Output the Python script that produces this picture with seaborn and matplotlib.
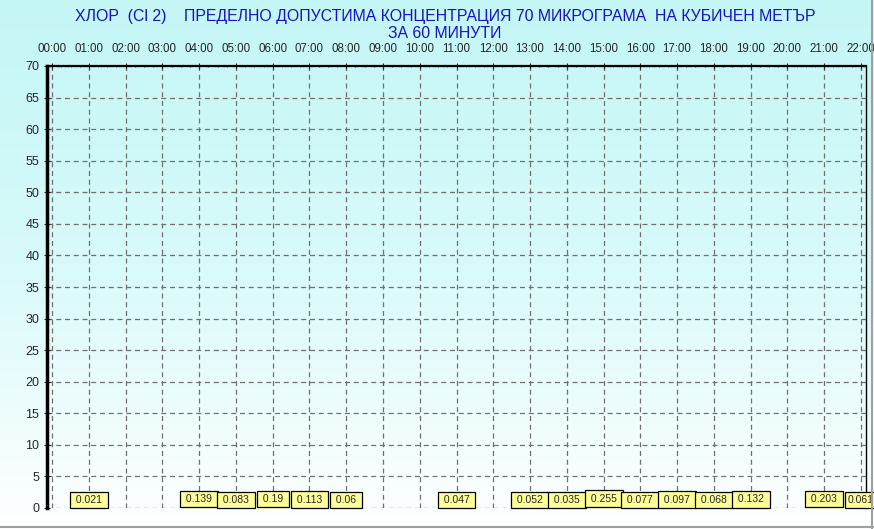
import numpy as np
import matplotlib
matplotlib.use("Agg")
import matplotlib.pyplot as plt
from matplotlib.colors import LinearSegmentedColormap
from matplotlib.lines import Line2D
from matplotlib.ticker import MultipleLocator
import seaborn as sns

# Данни
hours = ['%02d:00' % h for h in range(23)]
meas_hours = ['01:00', '04:00', '05:00', '06:00', '07:00', '08:00', '11:00',
              '13:00', '14:00', '15:00', '16:00', '17:00', '18:00', '19:00',
              '21:00', '22:00']
values = [0.021, 0.139, 0.083, 0.19, 0.113, 0.06, 0.047,
          0.052, 0.035, 0.255, 0.077, 0.097, 0.068, 0.132,
          0.203, 0.061]
title = ('ХЛОР  (Cl 2)    ПРЕДЕЛНО ДОПУСТИМА КОНЦЕНТРАЦИЯ 70 МИКРОГРАМА  НА КУБИЧЕН МЕТЪР\n'
         'ЗА 60 МИНУТИ')

sns.set_style("white")
plt.rcParams['font.family'] = ['Liberation Sans', 'DejaVu Sans']

fig = plt.figure(figsize=(8.74, 5.29), dpi=100)

# фон с градиент
bg = fig.add_axes([0, 0, 1, 1], zorder=-1)
cmap = LinearSegmentedColormap.from_list('bg', ['#c4f6f6', '#d8fafa', '#ffffff'])
bg.imshow(np.linspace(0, 1, 256).reshape(-1, 1), aspect='auto', cmap=cmap,
          extent=[0, 1, 0, 1])
bg.axis('off')

ax = fig.add_axes([47 / 874, 1 - 508 / 529, (866 - 47) / 874, (508 - 66) / 529])
ax.set_facecolor('none')

sns.barplot(x=meas_hours, y=values, order=hours, color='#ffff99',
            width=0.6, ax=ax, zorder=3)
labels = [' %g ' % v for v in values]
labels[-1] = '%g' % values[-1]  # последният е до ръба
ax.bar_label(ax.containers[0], labels=labels, padding=2, fontsize=7.5,
             bbox=dict(boxstyle='square,pad=0.3', fc='#ffff99', ec='black', lw=0.9),
             zorder=5)

ax.set_xlim(-0.14, 22.14)
ax.set_ylim(0, 70)
ax.set_xticks(range(23))
ax.set_xticklabels(hours)
ax.xaxis.tick_top()
ax.yaxis.set_major_locator(MultipleLocator(5))
ax.yaxis.set_minor_locator(MultipleLocator(1))
ax.xaxis.set_minor_locator(MultipleLocator(0.25))
ax.tick_params(axis='x', which='major', top=True, bottom=False, labelsize=8.3,
               length=4, direction='inout', pad=6)
ax.tick_params(axis='y', which='major', left=True, labelsize=9, length=5,
               direction='inout', pad=3)
ax.tick_params(which='minor', length=2, direction='inout', top=True, left=True,
               bottom=False)
ax.set_xlabel('')
ax.set_ylabel('')

ax.grid(True, which='major', linestyle=(0, (4, 3)), color='#707070', lw=0.9)
ax.set_axisbelow(True)
for s in ['left', 'top', 'right']:
    ax.spines[s].set_color('black')
ax.spines['left'].set_linewidth(2.5)
ax.spines['top'].set_linewidth(1.6)
ax.spines['right'].set_linewidth(1.0)
ax.spines['bottom'].set_visible(False)

fig.text(0.509, 0.983, title, ha='center', va='top', color='#1414c4',
         fontsize=11.4, linespacing=1.2)

# рамка на прозореца
fig.add_artist(Line2D([0, 1], [2 / 529, 2 / 529], color='#a0a0a0', lw=1.5))
fig.add_artist(Line2D([872 / 874, 872 / 874], [0, 1], color='#a0a0a0', lw=1.5))

fig.savefig('out.png', dpi=100)
